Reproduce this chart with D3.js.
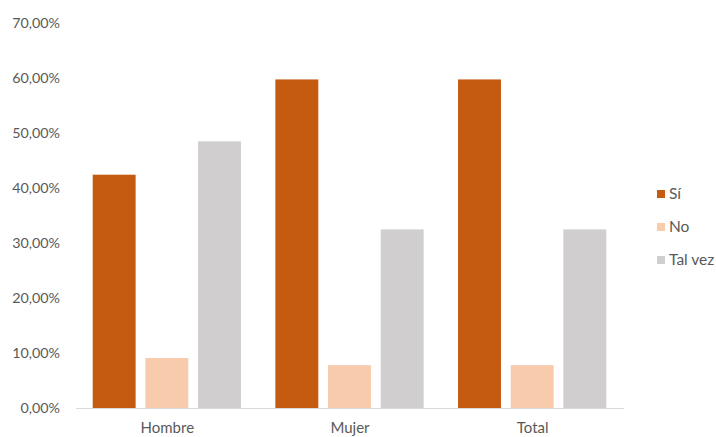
<!DOCTYPE html>
<html>
<head>
<meta charset="utf-8">
<script src="https://cdn.jsdelivr.net/npm/d3@7"></script>
<style>
  body { margin: 0; background: #fff; }
  svg text { font-family: Lato, "Open Sans", sans-serif; fill: #595959; }
</style>
</head>
<body>
<svg id="chart" width="716" height="437"></svg>
<script>
const categories = ["Hombre", "Mujer", "Total"];
const seriesNames = ["Sí", "No", "Tal vez"];
const valuesSi = [42.42, 59.74, 59.74];
const valuesNo = [9.09, 7.79, 7.79];
const valuesTalVez = [48.48, 32.47, 32.47];
const yTicks = [0, 10, 20, 30, 40, 50, 60, 70];
const colors = ["#C55A11", "#F8CBAD", "#D0CECE"];

const seriesValues = [valuesSi, valuesNo, valuesTalVez];
const svg = d3.select("#chart");
const margin = { left: 76, right: 92, top: 23, bottom: 29 };
const W = 716, H = 437;

const x = d3.scaleBand().domain(categories).range([margin.left, W - margin.right]).paddingInner(0).paddingOuter(0);
const xs = d3.scaleBand().domain(seriesNames).range([16.7, x.bandwidth() - 17.7]).paddingInner(0.185).paddingOuter(0);
const y = d3.scaleLinear().domain([0, 70]).range([H - margin.bottom, margin.top]);

// y-axis labels
const fmt = v => v.toFixed(2).replace(".", ",") + "%";
svg.append("g").selectAll("text").data(yTicks).join("text")
  .attr("x", 60).attr("y", d => y(d)).attr("dy", "0.35em")
  .attr("text-anchor", "end").attr("font-size", 14.3)
  .text(fmt);

// bars
const g = svg.append("g");
categories.forEach((c, i) => {
  seriesNames.forEach((s, j) => {
    const v = seriesValues[j][i];
    g.append("rect")
      .attr("x", x(c) + xs(s)).attr("width", xs.bandwidth())
      .attr("y", y(v)).attr("height", y(0) - y(v))
      .attr("fill", colors[j]);
  });
});

// x axis line and labels
svg.append("line")
  .attr("x1", margin.left).attr("x2", W - margin.right)
  .attr("y1", y(0) + 0.5).attr("y2", y(0) + 0.5)
  .attr("stroke", "#d9d9d9").attr("stroke-width", 1);
svg.append("g").selectAll("text").data(categories).join("text")
  .attr("x", d => x(d) + x.bandwidth() / 2).attr("y", 433)
  .attr("text-anchor", "middle").attr("font-size", 15)
  .text(d => d);

// legend
const legend = svg.append("g").selectAll("g").data(seriesNames).join("g")
  .attr("transform", (d, i) => `translate(657, ${194 + i * 33})`);
legend.append("rect").attr("x", 0).attr("y", -4).attr("width", 8).attr("height", 8)
  .attr("fill", (d, i) => colors[i]);
legend.append("text").attr("x", 12).attr("y", 0).attr("dy", "0.35em")
  .attr("font-size", 15.5).text(d => d);
</script>
</body>
</html>
